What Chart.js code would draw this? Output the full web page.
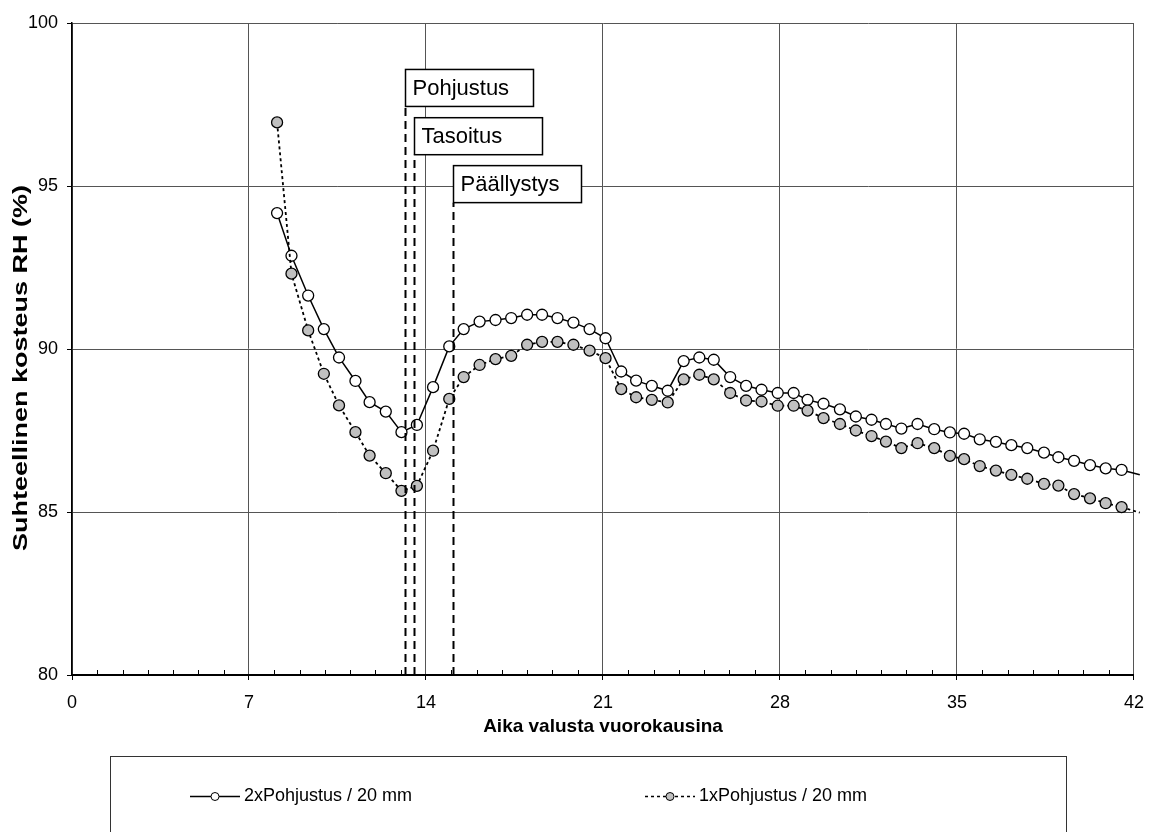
<!DOCTYPE html>
<html>
<head>
<meta charset="utf-8">
<script src="https://cdn.jsdelivr.net/npm/chart.js@4.4.1/dist/chart.umd.min.js"></script>
<style>
  html, body { margin: 0; padding: 0; background: #fff; }
  canvas { display: block; }
</style>
</head>
<body>
<canvas id="rh" width="1156" height="832"></canvas>
<script>
// Measurement times (days since casting) and relative humidity readings
const days = [8.11, 8.68, 9.34, 9.96, 10.56, 11.21, 11.77, 12.41, 13.03, 13.64,
  14.28, 14.92, 15.49, 16.12, 16.75, 17.37, 18.00, 18.59, 19.20, 19.83,
  20.47, 21.10, 21.72, 22.31, 22.93, 23.56, 24.19, 24.81, 25.38, 26.03,
  26.66, 27.27, 27.91, 28.54, 29.09, 29.72, 30.37, 31.00, 31.62, 32.19,
  32.80, 33.44, 34.10, 34.72, 35.28, 35.90, 36.54, 37.15, 37.78, 38.44,
  39.01, 39.63, 40.26, 40.88, 41.51, 42.23];

const rh2x = [94.17, 92.86, 91.64, 90.61, 89.74, 89.02, 88.37, 88.08, 87.45, 87.67,
  88.83, 90.08, 90.61, 90.84, 90.89, 90.95, 91.05, 91.05, 90.95, 90.81,
  90.61, 90.33, 89.31, 89.03, 88.87, 88.72, 89.63, 89.74, 89.67, 89.14,
  88.87, 88.75, 88.65, 88.65, 88.44, 88.32, 88.15, 87.93, 87.83, 87.70,
  87.56, 87.70, 87.54, 87.44, 87.40, 87.23, 87.15, 87.05, 86.96, 86.82,
  86.68, 86.57, 86.44, 86.34, 86.29, 86.14];

const rh1x = [96.95, 92.31, 90.57, 89.24, 88.27, 87.45, 86.73, 86.19, 85.65, 85.80,
  86.88, 88.47, 89.14, 89.51, 89.69, 89.79, 90.13, 90.22, 90.22, 90.13,
  89.95, 89.72, 88.77, 88.52, 88.44, 88.36, 89.07, 89.21, 89.07, 88.65,
  88.42, 88.39, 88.26, 88.26, 88.11, 87.88, 87.70, 87.50, 87.33, 87.16,
  86.96, 87.11, 86.96, 86.72, 86.62, 86.41, 86.27, 86.14, 86.02, 85.86,
  85.81, 85.55, 85.42, 85.27, 85.15, 84.98];

const seriesNames = ['2xPohjustus / 20 mm', '1xPohjustus / 20 mm'];

// Axis ticks
const xTicks = [0, 7, 14, 21, 28, 35, 42];
const yTicks = [80, 85, 90, 95, 100];

// Work stages (day on which each was done)
const eventDays = [13.18, 13.54, 15.08];
const eventNames = ['Pohjustus', 'Tasoitus', 'Päällystys'];

const xTitle = 'Aika valusta vuorokausina';
const yTitle = 'Suhteellinen kosteus RH (%)';

const FONT = "'Liberation Sans', Arial, Helvetica, sans-serif";
Chart.defaults.font.family = FONT;
Chart.defaults.color = '#000';

const X_MIN = 0, X_MAX = 42;

const toPoints = vals => days.map((d, i) => ({ x: d, y: vals[i] }));
const hideOutside = ctx => (ctx.raw && ctx.raw.x > X_MAX ? 0 : null);

// Annotations, minor ticks, rotated axis title and the legend box
const decor = {
  id: 'decor',
  afterDatasetsDraw(chart, args, opts) {
    const { ctx, chartArea: a, scales: { x, y } } = chart;
    ctx.save();
    eventDays.forEach((d, i) => {
      const px = Math.round(x.getPixelForValue(d)) + 0.5;
      const boxBottom = y.getPixelForValue(opts.levels[i]);
      const boxTop = boxBottom - 37;
      ctx.setLineDash([8, 5]);
      ctx.lineWidth = 2;
      ctx.strokeStyle = '#000';
      ctx.beginPath();
      ctx.moveTo(px, a.bottom);
      ctx.lineTo(px, boxBottom);
      ctx.stroke();
      ctx.setLineDash([]);
      ctx.fillStyle = '#fff';
      ctx.fillRect(px, boxTop, 128, 37);
      ctx.lineWidth = 1.5;
      ctx.strokeRect(px, boxTop, 128, 37);
      ctx.fillStyle = '#000';
      ctx.font = '22px ' + FONT;
      ctx.textAlign = 'left';
      ctx.textBaseline = 'middle';
      ctx.fillText(eventNames[i], px + 7, boxTop + 19);
    });
    ctx.restore();
  },
  afterDraw(chart) {
    const { ctx, chartArea: a, scales: { x } } = chart;
    ctx.save();
    // daily minor ticks on the time axis
    ctx.strokeStyle = '#000';
    ctx.lineWidth = 1;
    ctx.beginPath();
    for (let d = X_MIN + 1; d < X_MAX; d++) {
      if (d % 7 === 0) continue;
      const px = Math.round(x.getPixelForValue(d)) + 0.5;
      ctx.moveTo(px, a.bottom);
      ctx.lineTo(px, a.bottom - 5);
    }
    ctx.stroke();

    // vertical axis title
    ctx.save();
    ctx.translate(26.5, 368);
    ctx.rotate(-Math.PI / 2);
    ctx.font = 'bold 20px ' + FONT;
    const w = ctx.measureText(yTitle).width;
    ctx.scale(366 / w, 1);
    ctx.textAlign = 'center';
    ctx.textBaseline = 'alphabetic';
    ctx.fillStyle = '#000';
    ctx.fillText(yTitle, 0, 0);
    ctx.restore();

    // legend
    ctx.strokeStyle = '#333';
    ctx.lineWidth = 1;
    ctx.strokeRect(110.5, 756.5, 956, 100);
    const ly = 796.5;
    const entries = [
      { x0: 190, dash: [], fill: '#fff', text: chart.data.datasets[0].label },
      { x0: 645, dash: [3, 3], fill: '#c0c0c0', text: chart.data.datasets[1].label }
    ];
    entries.forEach(e => {
      ctx.strokeStyle = '#000';
      ctx.lineWidth = 1.5;
      ctx.setLineDash(e.dash);
      ctx.beginPath();
      ctx.moveTo(e.x0, ly);
      ctx.lineTo(e.x0 + 50, ly);
      ctx.stroke();
      ctx.setLineDash([]);
      ctx.beginPath();
      ctx.arc(e.x0 + 25, ly, 4, 0, Math.PI * 2);
      ctx.fillStyle = e.fill;
      ctx.fill();
      ctx.lineWidth = 1;
      ctx.stroke();
      ctx.fillStyle = '#000';
      ctx.font = '18px ' + FONT;
      ctx.textAlign = 'left';
      ctx.textBaseline = 'middle';
      ctx.fillText(e.text, e.x0 + 54, ly);
    });
    ctx.restore();
  }
};

new Chart(document.getElementById('rh'), {
  type: 'line',
  data: {
    datasets: [
      {
        label: seriesNames[0],
        data: toPoints(rh2x),
        borderColor: '#000',
        borderWidth: 1.5,
        pointRadius: ctx => hideOutside(ctx) ?? 5.5,
        pointBackgroundColor: '#fff',
        pointBorderColor: '#000',
        pointBorderWidth: 1.3,
        tension: 0,
        order: 1,
        clip: { left: 5, top: 5, right: 8, bottom: 5 }
      },
      {
        label: seriesNames[1],
        data: toPoints(rh1x),
        borderColor: '#000',
        borderWidth: 1.8,
        borderDash: [3, 3],
        pointRadius: ctx => hideOutside(ctx) ?? 5.5,
        pointBackgroundColor: '#c0c0c0',
        pointBorderColor: '#000',
        pointBorderWidth: 1.3,
        tension: 0,
        order: 0,
        clip: { left: 5, top: 5, right: 8, bottom: 5 }
      }
    ]
  },
  options: {
    responsive: false,
    animation: false,
    devicePixelRatio: 1,
    layout: { padding: { top: 23, right: 21, bottom: 0, left: 0 } },
    plugins: {
      legend: { display: false },
      tooltip: { enabled: false },
      decor: { levels: [97.44, 95.96, 94.49] }
    },
    scales: {
      x: {
        type: 'linear',
        min: X_MIN,
        max: X_MAX,
        afterBuildTicks: s => { s.ticks = xTicks.map(v => ({ value: v })); },
        afterFit: s => { s.height = 157; },
        ticks: { font: { size: 18 }, color: '#000', padding: 12, maxRotation: 0 },
        grid: { color: '#555', lineWidth: 1, tickLength: 5, tickColor: '#000' },
        border: { color: '#000', width: 2 },
        title: {
          display: true,
          text: xTitle,
          font: { size: 19, weight: 'bold' },
          color: '#000',
          padding: { top: 0, bottom: 94 }
        }
      },
      y: {
        min: 80,
        max: 100,
        afterBuildTicks: s => { s.ticks = yTicks.map(v => ({ value: v })); },
        afterFit: s => { s.width = 72; },
        ticks: { font: { size: 18 }, color: '#000', padding: 9 },
        grid: { color: '#555', lineWidth: 1, tickLength: 5, tickColor: '#000' },
        border: { color: '#000', width: 1.5 }
      }
    }
  },
  plugins: [decor]
});
</script>
</body>
</html>
